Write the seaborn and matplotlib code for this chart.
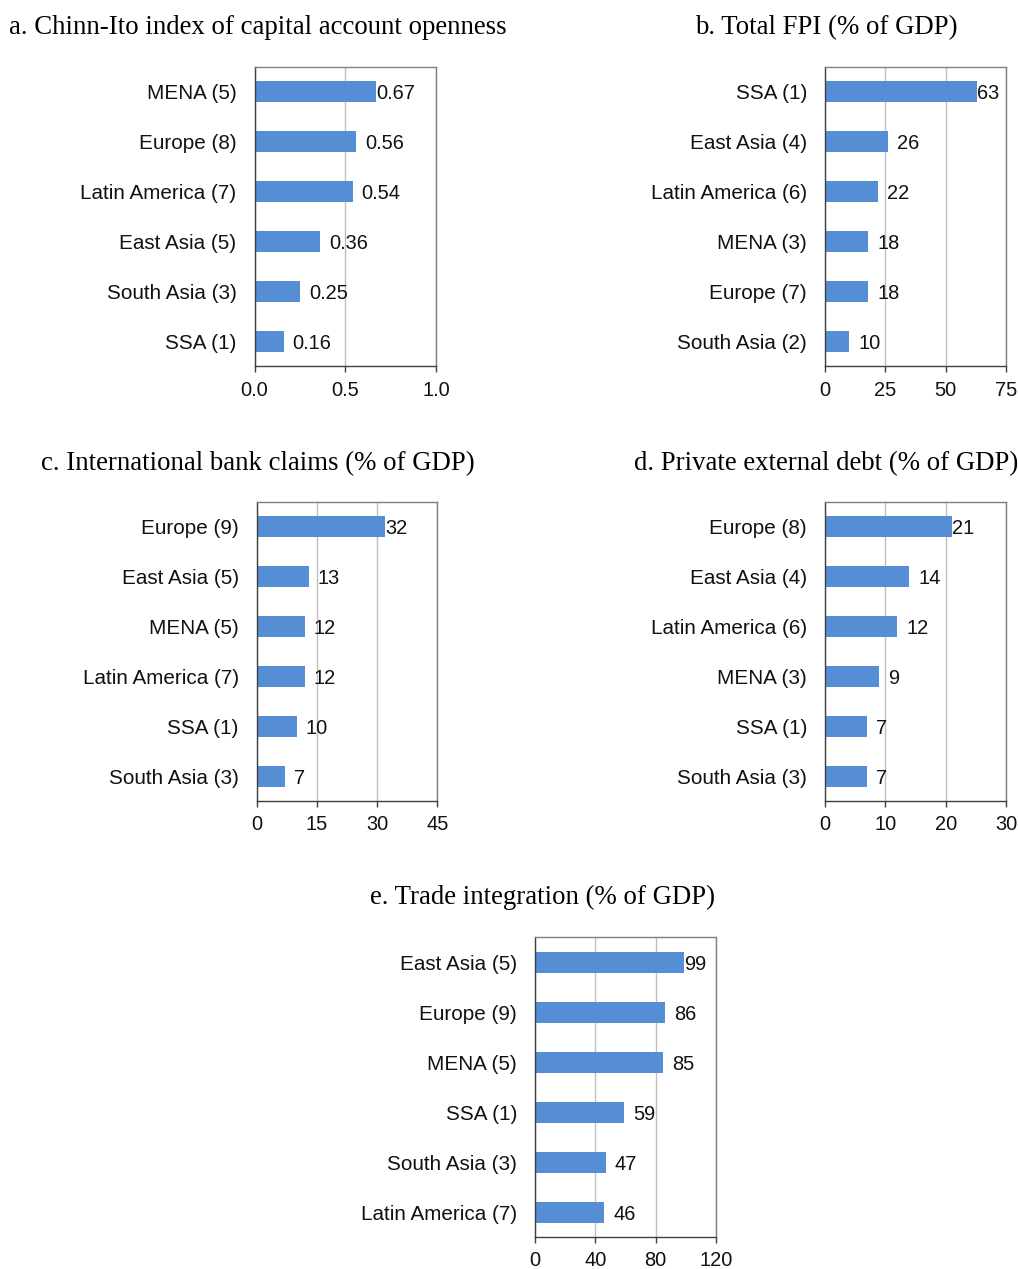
import matplotlib
matplotlib.use("Agg")
import matplotlib.pyplot as plt
import seaborn as sns
import pandas as pd
from matplotlib.ticker import FormatStrFormatter

sns.set_theme(style="white")
plt.rcParams["font.family"] = ["Liberation Sans", "DejaVu Sans"]

# Panel data
a_regions = ["MENA (5)", "Europe (8)", "Latin America (7)", "East Asia (5)", "South Asia (3)", "SSA (1)"]
a_values = [0.67, 0.56, 0.54, 0.36, 0.25, 0.16]
a_labels = ["0.67", "0.56", "0.54", "0.36", "0.25", "0.16"]
a_ticks = [0.0, 0.5, 1.0]

b_regions = ["SSA (1)", "East Asia (4)", "Latin America (6)", "MENA (3)", "Europe (7)", "South Asia (2)"]
b_values = [63, 26, 22, 18, 18, 10]
b_ticks = [0, 25, 50, 75]

c_regions = ["Europe (9)", "East Asia (5)", "MENA (5)", "Latin America (7)", "SSA (1)", "South Asia (3)"]
c_values = [32, 13, 12, 12, 10, 7]
c_ticks = [0, 15, 30, 45]

d_regions = ["Europe (8)", "East Asia (4)", "Latin America (6)", "MENA (3)", "SSA (1)", "South Asia (3)"]
d_values = [21, 14, 12, 9, 7, 7]
d_ticks = [0, 10, 20, 30]

e_regions = ["East Asia (5)", "Europe (9)", "MENA (5)", "SSA (1)", "South Asia (3)", "Latin America (7)"]
e_values = [99, 86, 85, 59, 47, 46]
e_ticks = [0, 40, 80, 120]

titles = [
    "a. Chinn-Ito index of capital account openness",
    "b. Total FPI (% of GDP)",
    "c. International bank claims (% of GDP)",
    "d. Private external debt (% of GDP)",
    "e. Trade integration (% of GDP)",
]

W, H = 1018, 1269
fig = plt.figure(figsize=(W / 100, H / 100), dpi=100)
fig.patch.set_facecolor("white")

BAR = "#558ED5"
TXT = "#111111"


def px_axes(left, right, top, bottom):
    return fig.add_axes([left / W, 1 - bottom / H, (right - left) / W, (bottom - top) / H])


def panel(ax, regions, values, ticks, labels=None, fmt=None):
    df = pd.DataFrame({"region": regions, "value": values})
    sns.barplot(data=df, y="region", x="value", orient="h", color=BAR,
                saturation=1, width=0.42, ax=ax, edgecolor="none")
    ax.set_xlim(ticks[0], ticks[-1])
    ax.set_xticks(ticks)
    if fmt:
        ax.xaxis.set_major_formatter(FormatStrFormatter(fmt))
    ax.set_xlabel("")
    ax.set_ylabel("")
    ax.set_axisbelow(True)
    ax.grid(axis="x", color="#BFBFBF", linewidth=1)
    ax.grid(axis="y", visible=False)
    for side in ["left", "bottom"]:
        ax.spines[side].set_color("#404040")
        ax.spines[side].set_linewidth(1)
    for side in ["top", "right"]:
        ax.spines[side].set_color("#7F7F7F")
        ax.spines[side].set_linewidth(1)
        ax.spines[side].set_visible(True)
    ax.tick_params(axis="x", direction="out", length=4, width=1, color="#404040",
                   pad=6.3, labelsize=14.4, labelcolor=TXT, bottom=True)
    ax.tick_params(axis="y", length=0, pad=13, labelsize=14.9, labelcolor=TXT)
    if labels is None:
        labels = [str(v) for v in values]
    bars = ax.containers[0]
    for i, (rect, lab) in enumerate(zip(bars, labels)):
        pad = 0 if i == 0 else 6.5
        ax.annotate(lab, xy=(rect.get_width(), rect.get_y() + rect.get_height() / 2),
                    xytext=(pad, 0), textcoords="offset points",
                    ha="left", va="center_baseline", fontsize=14.4, color=TXT)


ax_a = px_axes(254.5, 436, 67, 366.5)
panel(ax_a, a_regions, a_values, a_ticks, a_labels, fmt="%.1f")
ax_b = px_axes(825, 1006, 67, 366.5)
panel(ax_b, b_regions, b_values, b_ticks)
ax_c = px_axes(256.7, 437.3, 501.7, 801)
panel(ax_c, c_regions, c_values, c_ticks)
ax_d = px_axes(825, 1006, 501.7, 801)
panel(ax_d, d_regions, d_values, d_ticks)
ax_e = px_axes(535, 716, 937, 1237)
panel(ax_e, e_regions, e_values, e_ticks)

title_pos = [(257.5, 28), (826.5, 28), (257.8, 463.5), (826, 463.5), (542.5, 897)]
for t, (x, y) in zip(titles, title_pos):
    fig.text(x / W, 1 - y / H, t, ha="center", va="center", fontsize=19.3,
             family=["Liberation Serif", "DejaVu Serif"], color="black")

fig.savefig("out.png", dpi=100, facecolor="white")
